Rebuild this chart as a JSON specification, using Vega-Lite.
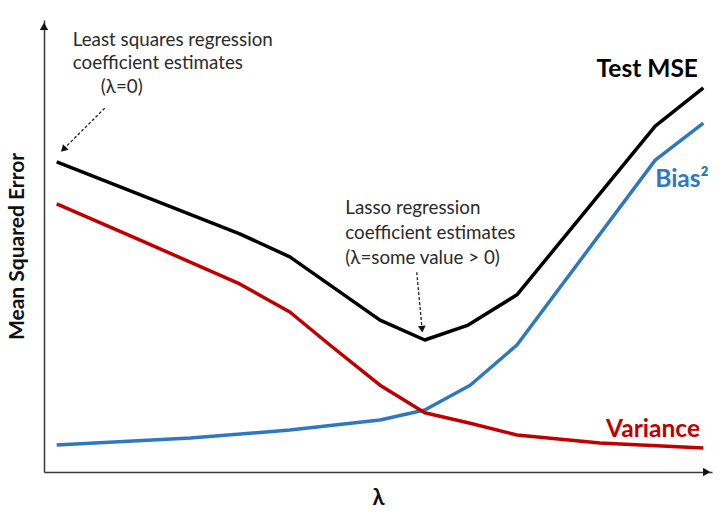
{
  "$schema": "https://vega.github.io/schema/vega-lite/v6.json",
  "width": 668,
  "height": 452,
  "autosize": "none",
  "padding": {"left": 44, "top": 20, "right": 8, "bottom": 52},
  "background": "white",
  "config": {
    "view": {"stroke": null},
    "font": "Lato",
    "text": {"font": "Lato"}
  },
  "datasets": {
    "curves": [
      {"series": "Test MSE", "lambda": 1.9, "mse": 68.6},
      {"series": "Test MSE", "lambda": 29.3, "mse": 52.7},
      {"series": "Test MSE", "lambda": 36.8, "mse": 47.6},
      {"series": "Test MSE", "lambda": 50.3, "mse": 33.6},
      {"series": "Test MSE", "lambda": 57.0, "mse": 29.2},
      {"series": "Test MSE", "lambda": 63.5, "mse": 32.5},
      {"series": "Test MSE", "lambda": 70.8, "mse": 39.2},
      {"series": "Test MSE", "lambda": 91.5, "mse": 76.5},
      {"series": "Test MSE", "lambda": 98.7, "mse": 85.0},
      {"series": "Bias²", "lambda": 1.9, "mse": 6.0},
      {"series": "Bias²", "lambda": 21.9, "mse": 7.5},
      {"series": "Bias²", "lambda": 36.8, "mse": 9.3},
      {"series": "Bias²", "lambda": 50.3, "mse": 11.5},
      {"series": "Bias²", "lambda": 57.0, "mse": 13.7},
      {"series": "Bias²", "lambda": 63.8, "mse": 19.2},
      {"series": "Bias²", "lambda": 70.8, "mse": 28.1},
      {"series": "Bias²", "lambda": 91.5, "mse": 69.0},
      {"series": "Bias²", "lambda": 98.7, "mse": 77.2},
      {"series": "Variance", "lambda": 1.9, "mse": 59.3},
      {"series": "Variance", "lambda": 14.4, "mse": 51.3},
      {"series": "Variance", "lambda": 29.3, "mse": 41.6},
      {"series": "Variance", "lambda": 36.8, "mse": 35.4},
      {"series": "Variance", "lambda": 42.8, "mse": 28.1},
      {"series": "Variance", "lambda": 50.3, "mse": 19.2},
      {"series": "Variance", "lambda": 57.0, "mse": 13.1},
      {"series": "Variance", "lambda": 63.8, "mse": 10.8},
      {"series": "Variance", "lambda": 70.8, "mse": 8.2},
      {"series": "Variance", "lambda": 83.2, "mse": 6.4},
      {"series": "Variance", "lambda": 98.7, "mse": 5.3}
    ],
    "seriesLabels": [
      {"series": "Test MSE", "lambda": 97.9, "mse": 88.9, "side": "right"},
      {"series": "Bias²", "lambda": 91.5, "mse": 64.6, "side": "left"},
      {"series": "Variance", "lambda": 98.2, "mse": 9.3, "side": "right"}
    ],
    "notes": [
      {"text": "Least squares regression", "lambda": 4.3, "mse": 95.6},
      {"text": "coefficient estimates", "lambda": 4.3, "mse": 90.5},
      {"text": "(λ=0)", "lambda": 8.5, "mse": 85.2},
      {"text": "Lasso regression", "lambda": 45.1, "mse": 58.4},
      {"text": "coefficient estimates", "lambda": 45.1, "mse": 52.9},
      {"text": "(λ=some value > 0)", "lambda": 45.1, "mse": 47.3}
    ],
    "pointers": [
      {"note": "least squares", "lambda": 9.1, "mse": 80.5, "lambda2": 2.9, "mse2": 71.4},
      {"note": "lasso", "lambda": 55.8, "mse": 44.2, "lambda2": 56.6, "mse2": 31.6}
    ]
  },
  "layer": [
    {
      "data": {"values": [{"lambda": 0, "mse": 0}]},
      "mark": {"type": "point", "opacity": 0},
      "encoding": {
        "x": {
          "field": "lambda", "type": "quantitative",
          "scale": {"domain": [0, 100], "nice": false, "zero": false},
          "axis": {
            "title": "λ", "titleFontSize": 22, "titleFontWeight": "bold", "titleFont": "Lato",
            "titleColor": "#111", "titlePadding": 15,
            "ticks": false, "labels": false, "grid": false,
            "domainColor": "#3a3a3a", "domainWidth": 1.5
          }
        },
        "y": {
          "field": "mse", "type": "quantitative",
          "scale": {"domain": [0, 100], "nice": false, "zero": false},
          "axis": {
            "title": "Mean Squared Error", "titleFontSize": 21, "titleFontWeight": "bold", "titleFont": "Lato",
            "titleColor": "#111", "titlePadding": 17,
            "ticks": false, "labels": false, "grid": false,
            "domainColor": "#3a3a3a", "domainWidth": 1.5
          }
        }
      }
    },
    {
      "data": {"name": "curves"},
      "mark": {"type": "line", "strokeWidth": 3.5, "strokeJoin": "round"},
      "encoding": {
        "x": {"field": "lambda", "type": "quantitative"},
        "y": {"field": "mse", "type": "quantitative"},
        "color": {
          "field": "series", "type": "nominal",
          "scale": {"domain": ["Test MSE", "Bias²", "Variance"], "range": ["#000000", "#2f78bd", "#c00000"]},
          "legend": null
        }
      }
    },
    {
      "data": {"name": "seriesLabels"},
      "transform": [{"filter": "datum.side === 'right'"}],
      "mark": {"type": "text", "align": "right", "baseline": "middle", "fontSize": 24.5, "fontWeight": "bold", "font": "Lato"},
      "encoding": {
        "x": {"field": "lambda", "type": "quantitative"},
        "y": {"field": "mse", "type": "quantitative"},
        "text": {"field": "series"},
        "color": {"field": "series", "type": "nominal", "legend": null}
      }
    },
    {
      "data": {"name": "seriesLabels"},
      "transform": [{"filter": "datum.side === 'left'"}],
      "mark": {"type": "text", "align": "left", "baseline": "middle", "fontSize": 24.5, "fontWeight": "bold", "font": "Lato"},
      "encoding": {
        "x": {"field": "lambda", "type": "quantitative"},
        "y": {"field": "mse", "type": "quantitative"},
        "text": {"field": "series"},
        "color": {"field": "series", "type": "nominal", "legend": null}
      }
    },
    {
      "data": {"name": "notes"},
      "mark": {"type": "text", "align": "left", "baseline": "middle", "fontSize": 18.8, "font": "Lato", "color": "#2b2b2b"},
      "encoding": {
        "x": {"field": "lambda", "type": "quantitative"},
        "y": {"field": "mse", "type": "quantitative"},
        "text": {"field": "text"}
      }
    },
    {
      "data": {"name": "pointers"},
      "mark": {"type": "rule", "strokeDash": [3, 2], "strokeWidth": 1.3, "color": "#222"},
      "encoding": {
        "x": {"field": "lambda", "type": "quantitative"},
        "y": {"field": "mse", "type": "quantitative"},
        "x2": {"field": "lambda2"},
        "y2": {"field": "mse2"}
      }
    },
    {
      "data": {"name": "pointers"},
      "transform": [{"filter": "datum.note === 'least squares'"}],
      "mark": {"type": "point", "shape": "triangle-down", "angle": 45, "size": 60, "filled": true, "color": "#111", "opacity": 1},
      "encoding": {
        "x": {"field": "lambda2", "type": "quantitative"},
        "y": {"field": "mse2", "type": "quantitative"}
      }
    },
    {
      "data": {"name": "pointers"},
      "transform": [{"filter": "datum.note === 'lasso'"}],
      "mark": {"type": "point", "shape": "triangle-down", "angle": -5, "size": 60, "filled": true, "color": "#111", "opacity": 1},
      "encoding": {
        "x": {"field": "lambda2", "type": "quantitative"},
        "y": {"field": "mse2", "type": "quantitative"}
      }
    },
    {
      "data": {"values": [{"lambda": 0, "mse": 98.6}]},
      "mark": {"type": "point", "shape": "triangle-up", "size": 70, "filled": true, "color": "#111", "opacity": 1},
      "encoding": {
        "x": {"field": "lambda", "type": "quantitative"},
        "y": {"field": "mse", "type": "quantitative"}
      }
    },
    {
      "data": {"values": [{"lambda": 99.2, "mse": 0}]},
      "mark": {"type": "point", "shape": "triangle-right", "size": 70, "filled": true, "color": "#111", "opacity": 1},
      "encoding": {
        "x": {"field": "lambda", "type": "quantitative"},
        "y": {"field": "mse", "type": "quantitative"}
      }
    }
  ]
}
